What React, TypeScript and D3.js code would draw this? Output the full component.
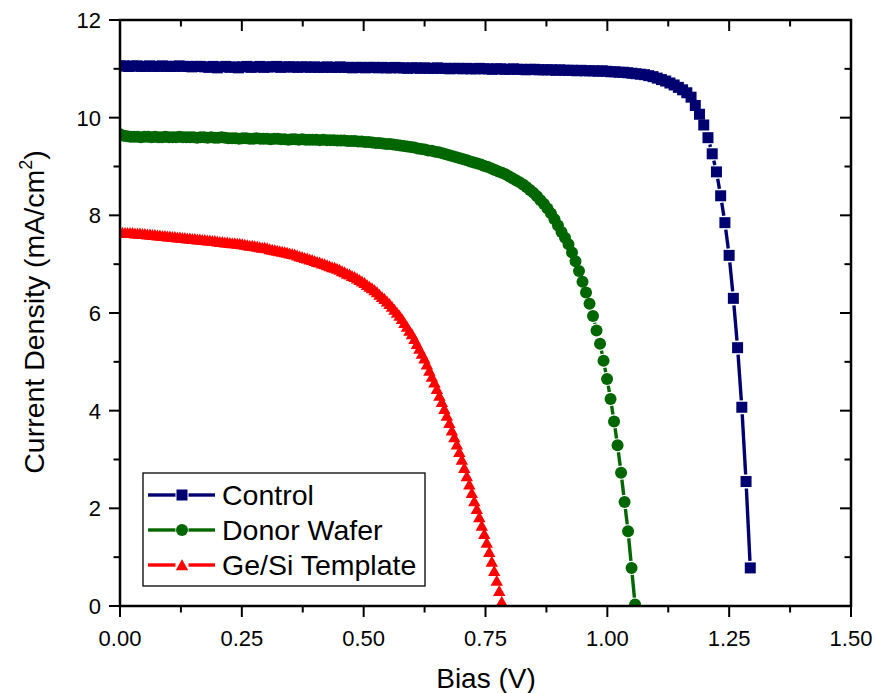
import React, { useEffect, useRef } from 'react';
import * as d3 from 'd3';

// J-V sweep data (current density in mA/cm^2), one value per sweep step
const controlStep = 0.00868;
const controlJ = [
  11.06, 11.06, 11.05, 11.06, 11.06, 11.05, 11.05, 11.06, 11.05, 11.05, 11.06, 11.05, 11.05, 11.05, 11.06, 11.05, 11.05, 11.04, 11.05, 11.05, 11.04,
  11.03, 11.05, 11.02, 11.04, 11.05, 11.03, 11.04, 11.02, 11.04, 11.05, 11.03, 11.04, 11.05, 11.03, 11.04, 11.04, 11.05, 11.03, 11.04, 11.04,
  11.04, 11.03, 11.04, 11.04, 11.03, 11.04, 11.03, 11.03, 11.04, 11.03, 11.03, 11.04, 11.03, 11.03, 11.02, 11.03, 11.03, 11.02, 11.03, 11.03,
  11.02, 11.03, 11.02, 11.02, 11.03, 11.02, 11.02, 11.01, 11.02, 11.02, 11.01, 11.02, 11.01, 11.01, 11.02, 11.01, 11.01, 11.0, 11.01, 11.01,
  11.0, 11.01, 11.0, 11.0, 11.01, 11.0, 11.0, 10.99, 11.0, 11.0, 10.99, 10.99, 11.0, 10.99, 10.99, 10.98, 10.99, 10.99, 10.98, 10.98,
  10.98, 10.98, 10.97, 10.98, 10.97, 10.97, 10.97, 10.96, 10.97, 10.96, 10.96, 10.96, 10.95, 10.96,
  10.95, 10.94, 10.94, 10.93, 10.93, 10.92, 10.91, 10.9, 10.89, 10.88, 10.86, 10.84, 10.81, 10.78, 10.75, 10.71, 10.67, 10.62, 10.57, 10.51, 10.42,
  10.25, 10.07, 9.85, 9.59, 9.26, 8.89, 8.4, 7.85, 7.18, 6.3, 5.29, 4.07, 2.55, 0.78,
];

const donorStep = 0.00719;
const donorJ = [
  9.66, 9.63, 9.62, 9.61, 9.61, 9.61, 9.6, 9.61, 9.61, 9.6, 9.61, 9.6, 9.6, 9.61, 9.6, 9.6, 9.6, 9.61, 9.6, 9.6,
  9.6, 9.6, 9.59, 9.6, 9.6, 9.59, 9.6, 9.59, 9.59, 9.6, 9.59, 9.58, 9.58, 9.58, 9.57, 9.58, 9.58, 9.57, 9.57, 9.58,
  9.57, 9.57, 9.57, 9.56, 9.57, 9.57, 9.56, 9.56, 9.55, 9.56, 9.56, 9.55, 9.56, 9.55, 9.55, 9.55, 9.55, 9.54, 9.55, 9.54,
  9.54, 9.54, 9.53, 9.53, 9.53, 9.52, 9.52, 9.52, 9.51, 9.51, 9.5, 9.5, 9.49, 9.48, 9.48, 9.47, 9.46, 9.46, 9.45, 9.44,
  9.43, 9.42, 9.41, 9.4, 9.39, 9.37, 9.36, 9.35, 9.33, 9.32, 9.3, 9.29, 9.27, 9.25, 9.23, 9.21, 9.19, 9.17, 9.15, 9.13,
  9.1, 9.08, 9.06, 9.04, 9.01, 8.99, 8.96, 8.93, 8.9, 8.87, 8.84, 8.8, 8.76, 8.72, 8.68, 8.63, 8.58, 8.52, 8.46, 8.39,
  8.31, 8.23, 8.14, 8.04, 7.92, 7.79, 7.66, 7.54, 7.41, 7.24, 7.06, 6.86, 6.64, 6.42, 6.19, 5.94, 5.64, 5.37, 5.02, 4.65,
  4.24, 3.78, 3.29, 2.73, 2.13, 1.53, 0.78, 0.03,
];

const templateStep = 0.00512;
const templateJ = [
  7.65, 7.65, 7.64, 7.64, 7.64, 7.64, 7.63, 7.63, 7.63, 7.62,
  7.62, 7.61, 7.61, 7.6, 7.6, 7.59, 7.59, 7.58, 7.58, 7.57,
  7.57, 7.56, 7.56, 7.55, 7.55, 7.54, 7.54, 7.53, 7.53, 7.52,
  7.52, 7.51, 7.51, 7.5, 7.5, 7.49, 7.49, 7.48, 7.48, 7.47,
  7.46, 7.46, 7.45, 7.45, 7.44, 7.43, 7.43, 7.42, 7.42,
  7.41, 7.4, 7.39, 7.38, 7.38, 7.37, 7.36, 7.35, 7.34, 7.34,
  7.33, 7.31, 7.3, 7.29, 7.28, 7.27, 7.26, 7.25, 7.24, 7.22,
  7.21, 7.2, 7.18, 7.16, 7.15, 7.13, 7.12, 7.1, 7.09,
  7.07, 7.05, 7.04, 7.02, 7.0, 6.98, 6.96, 6.94, 6.93, 6.91,
  6.89, 6.86, 6.84, 6.81, 6.79, 6.76, 6.74, 6.71, 6.68, 6.65,
  6.62, 6.58, 6.54, 6.51, 6.47, 6.43, 6.38, 6.33, 6.29, 6.24,
  6.19, 6.13, 6.07, 6.01, 5.95, 5.88, 5.8, 5.72, 5.64, 5.57,
  5.47, 5.37, 5.27, 5.17, 5.07, 4.95, 4.82, 4.7, 4.58, 4.45,
  4.31, 4.18, 4.04, 3.9, 3.75, 3.6, 3.46, 3.31, 3.16,
  3.0, 2.83, 2.66, 2.49, 2.32, 2.15, 1.99, 1.82, 1.65, 1.48,
  1.3, 1.11, 0.91, 0.72, 0.52, 0.31, 0.09,
];

const seriesNames = ['Control', 'Donor Wafer', 'Ge/Si Template'];
const xTicks = [0, 0.25, 0.5, 0.75, 1.0, 1.25, 1.5];
const xMinorTicks = [0.125, 0.375, 0.625, 0.875, 1.125, 1.375];
const yTicks = [0, 2, 4, 6, 8, 10, 12];
const yMinorTicks = [1, 3, 5, 7, 9, 11];

const FONT = '"Liberation Sans", Arial, Helvetica, sans-serif';

function markerPath(shape: string, cx: number, cy: number) {
  if (shape === 'square') return `M${cx - 5.5},${cy - 5.5}h11v11h-11Z`;
  if (shape === 'circle') return `M${cx + 6},${cy}A6,6 0 1,1 ${cx - 6},${cy}A6,6 0 1,1 ${cx + 6},${cy}Z`;
  return `M${cx - 6.2},${cy + 5.2}L${cx + 6.2},${cy + 5.2}L${cx},${cy - 5.8}Z`;
}

function App() {
  const svgRef = useRef<SVGSVGElement | null>(null);

  useEffect(() => {
    if (!svgRef.current) return;
    const svg = d3.select(svgRef.current);
    svg.selectAll('*').remove();

    const left = 120, right = 851, top = 20, bottom = 606;
    const x = d3.scaleLinear().domain([0, 1.5]).range([left, right]);
    const y = d3.scaleLinear().domain([0, 12]).range([bottom, top]);

    const series = [
      { name: seriesNames[0], color: '#000070', shape: 'square', step: controlStep, values: controlJ },
      { name: seriesNames[1], color: '#006600', shape: 'circle', step: donorStep, values: donorJ },
      { name: seriesNames[2], color: '#ff0000', shape: 'triangle', step: templateStep, values: templateJ },
    ];

    svg.append('defs').append('clipPath').attr('id', 'plot-clip')
      .append('rect')
      .attr('x', left).attr('y', top)
      .attr('width', right - left).attr('height', bottom - top);

    const plot = svg.append('g').attr('clip-path', 'url(#plot-clip)');
    const trim = 7;

    series.forEach((s) => {
      const pts = s.values.map((j, i) => [x(i * s.step), y(j)]);
      const g = plot.append('g');

      // line segments with a gap around each symbol
      for (let i = 0; i < pts.length - 1; i++) {
        const [x1, y1] = pts[i];
        const [x2, y2] = pts[i + 1];
        const d = Math.hypot(x2 - x1, y2 - y1);
        if (d <= 2 * trim + 0.5) continue;
        const ux = (x2 - x1) / d, uy = (y2 - y1) / d;
        g.append('line')
          .attr('x1', x1 + ux * trim).attr('y1', y1 + uy * trim)
          .attr('x2', x2 - ux * trim).attr('y2', y2 - uy * trim)
          .attr('stroke', s.color)
          .attr('stroke-width', 3.4);
      }

      g.selectAll('path.mk')
        .data(pts)
        .join('path')
        .attr('class', 'mk')
        .attr('d', (p) => markerPath(s.shape, p[0], p[1]))
        .attr('fill', s.color);
    });

    // Axes frame
    const axes = svg.append('g').attr('stroke', '#000').attr('stroke-width', 2.5);
    axes.append('rect')
      .attr('x', left).attr('y', top)
      .attr('width', right - left).attr('height', bottom - top)
      .attr('fill', 'none');

    const tickG = svg.append('g').attr('stroke', '#000').attr('stroke-width', 2);
    xTicks.forEach((t) => {
      tickG.append('line').attr('x1', x(t)).attr('x2', x(t)).attr('y1', bottom).attr('y2', bottom + 11);
      tickG.append('line').attr('x1', x(t)).attr('x2', x(t)).attr('y1', top).attr('y2', top + 11);
    });
    xMinorTicks.forEach((t) => {
      tickG.append('line').attr('x1', x(t)).attr('x2', x(t)).attr('y1', bottom).attr('y2', bottom + 6.5);
      tickG.append('line').attr('x1', x(t)).attr('x2', x(t)).attr('y1', top).attr('y2', top + 6.5);
    });
    yTicks.forEach((t) => {
      tickG.append('line').attr('x1', left - 11).attr('x2', left).attr('y1', y(t)).attr('y2', y(t));
      tickG.append('line').attr('x1', right - 11).attr('x2', right).attr('y1', y(t)).attr('y2', y(t));
    });
    yMinorTicks.forEach((t) => {
      tickG.append('line').attr('x1', left - 6.5).attr('x2', left).attr('y1', y(t)).attr('y2', y(t));
      tickG.append('line').attr('x1', right - 6.5).attr('x2', right).attr('y1', y(t)).attr('y2', y(t));
    });

    // Tick labels
    const labels = svg.append('g').attr('font-family', FONT).attr('font-size', 22).attr('fill', '#000');
    xTicks.forEach((t) => {
      labels.append('text')
        .attr('x', x(t)).attr('y', 646)
        .attr('text-anchor', 'middle')
        .text(d3.format('.2f')(t));
    });
    yTicks.forEach((t) => {
      labels.append('text')
        .attr('x', 101).attr('y', y(t) + 8)
        .attr('text-anchor', 'end')
        .text(String(t));
    });

    // Axis titles
    svg.append('text')
      .attr('x', 486).attr('y', 688)
      .attr('text-anchor', 'middle')
      .attr('font-family', FONT).attr('font-size', 28)
      .text('Bias (V)');

    const yt = svg.append('text')
      .attr('transform', 'translate(44,312) rotate(-90)')
      .attr('text-anchor', 'middle')
      .attr('font-family', FONT).attr('font-size', 28.5);
    yt.append('tspan').text('Current Density (mA/cm');
    yt.append('tspan').attr('font-size', 18).attr('dy', -12).text('2');
    yt.append('tspan').attr('dy', 12).text(')');

    // Legend
    const lg = svg.append('g');
    lg.append('rect')
      .attr('x', 143).attr('y', 473).attr('width', 282).attr('height', 113)
      .attr('fill', '#fff').attr('stroke', '#000').attr('stroke-width', 1.3);
    series.forEach((s, i) => {
      const cy = 495 + i * 35;
      const mx = 182;
      lg.append('line').attr('x1', 148).attr('x2', mx - 6.5).attr('y1', cy).attr('y2', cy)
        .attr('stroke', s.color).attr('stroke-width', 3.4);
      lg.append('line').attr('x1', mx + 6.5).attr('x2', 215).attr('y1', cy).attr('y2', cy)
        .attr('stroke', s.color).attr('stroke-width', 3.4);
      lg.append('path').attr('d', markerPath(s.shape, mx, cy)).attr('fill', s.color);
      lg.append('text')
        .attr('x', 222).attr('y', cy + 10)
        .attr('font-family', FONT).attr('font-size', 28.5)
        .text(s.name);
    });
  }, []);

  return (
    <svg
      ref={svgRef}
      width={876}
      height={693}
      style={{ position: 'absolute', left: 0, top: 0, background: '#fff' }}
    />
  );
}

export default App;
